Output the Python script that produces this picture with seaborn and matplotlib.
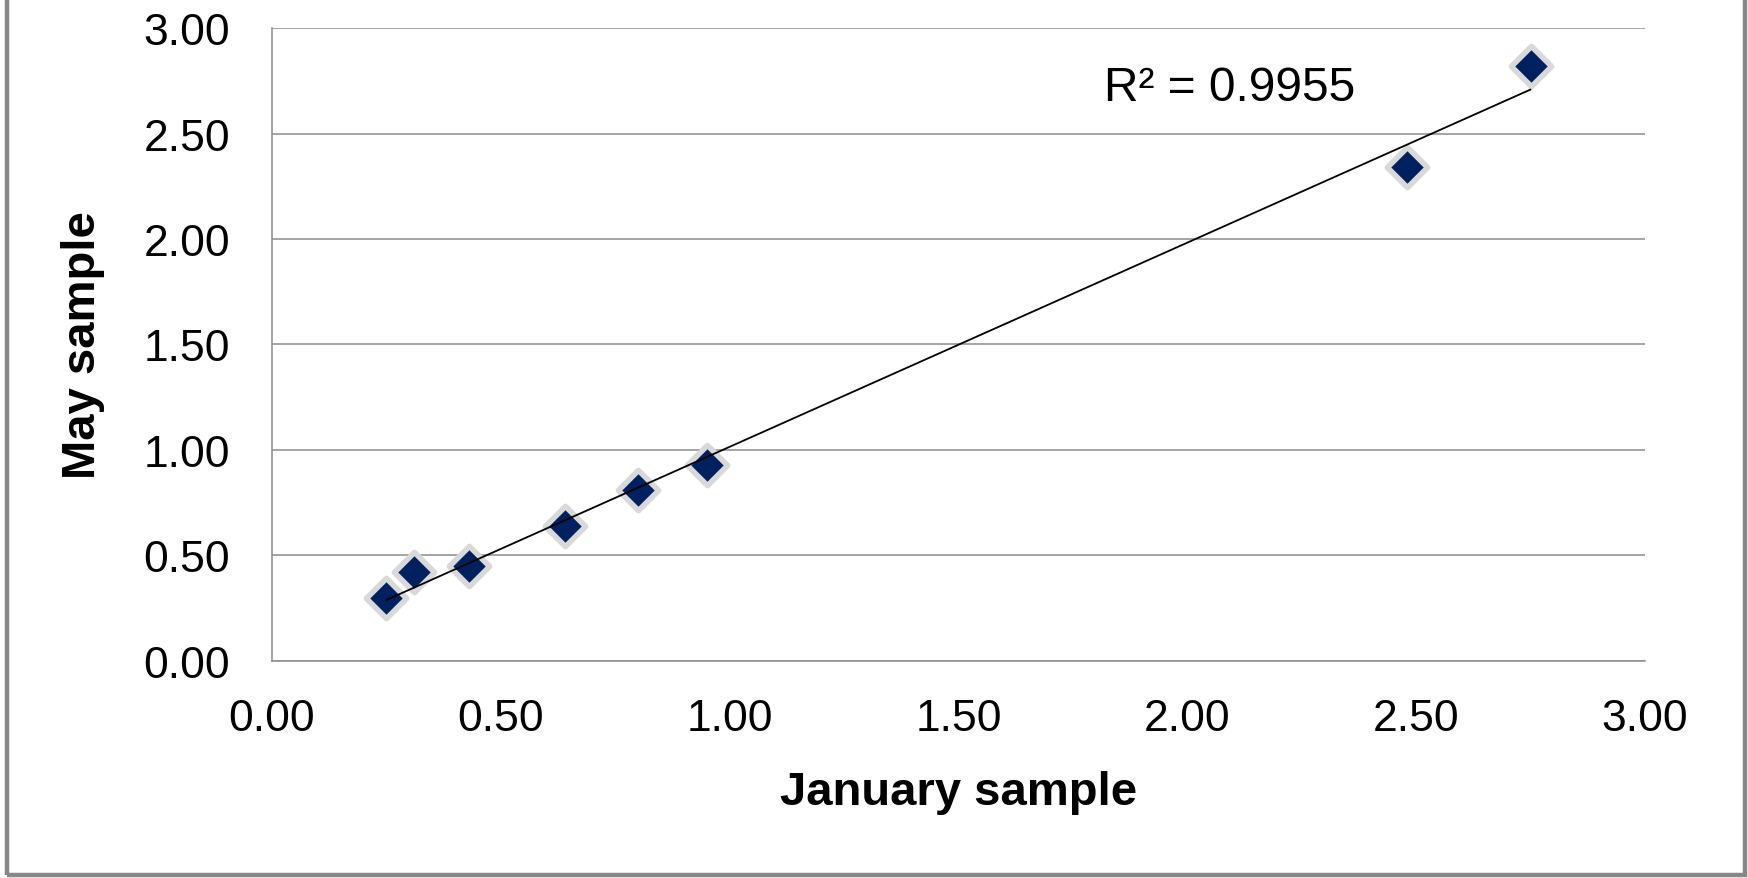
import numpy as np
import pandas as pd
import matplotlib
matplotlib.use('Agg')
import matplotlib.pyplot as plt
from matplotlib.patches import Rectangle
import seaborn as sns

# values
january = [0.25, 0.31, 0.43, 0.64, 0.80, 0.95, 2.48, 2.75]
may = [0.30, 0.42, 0.45, 0.64, 0.81, 0.93, 2.34, 2.82]
ticks = [0.0, 0.5, 1.0, 1.5, 2.0, 2.5, 3.0]
r2_label = 'R\u00b2 = 0.9955'

df = pd.DataFrame({'January sample': january, 'May sample': may})

sns.set_style('white')
plt.rcParams['font.family'] = ['Liberation Sans', 'DejaVu Sans']
plt.rcParams['text.color'] = 'black'
plt.rcParams['axes.labelcolor'] = 'black'

fig = plt.figure(figsize=(17.49, 8.79), dpi=100)
ax = fig.add_axes([0.1555, 0.2469, 0.785, 0.7201])

grid_gray = '#8c8c8c'

# markers with a soft light-grey halo
sns.scatterplot(data=df, x='January sample', y='May sample', ax=ax,
                marker='D', s=420, color='#00215f', edgecolor='#d9d9d9',
                linewidth=4, zorder=3, legend=False)

# linear trendline over the data range
sns.regplot(data=df, x='January sample', y='May sample', ax=ax,
            scatter=False, ci=None, truncate=True,
            line_kws={'color': 'black', 'lw': 1.3, 'zorder': 4})

ax.set_xlim(0, 3)
ax.set_ylim(0, 3)
ax.set_xticks(ticks)
ax.set_yticks(ticks)
ax.set_xticklabels([f'{t:.2f}' for t in ticks])
ax.set_yticklabels([f'{t:.2f}' for t in ticks])
ax.tick_params(axis='both', length=0, labelsize=32, colors='black')
ax.tick_params(axis='x', pad=27)
ax.tick_params(axis='y', pad=30)

ax.yaxis.grid(True, color=grid_gray, lw=1.1)
ax.xaxis.grid(False)
ax.set_axisbelow(True)
for side in ['top', 'right']:
    ax.spines[side].set_visible(False)
for side in ['left', 'bottom']:
    ax.spines[side].set_color(grid_gray)
    ax.spines[side].set_linewidth(1.1)

ax.set_xlabel('January sample', fontsize=34, fontweight='bold', labelpad=22)
ax.set_ylabel('May sample', fontsize=34, fontweight='bold', labelpad=28)

ax.text(1.818, 2.72, r2_label, fontsize=34.5, va='center', ha='left')

# outer chart border (left, right, bottom)
fig.patches.append(Rectangle((7 / 1749, 3 / 879), (1745 - 7) / 1749, 1.5,
                             transform=fig.transFigure, fill=False,
                             edgecolor='#878787', lw=3.2))

fig.savefig('out.png', dpi=100)
